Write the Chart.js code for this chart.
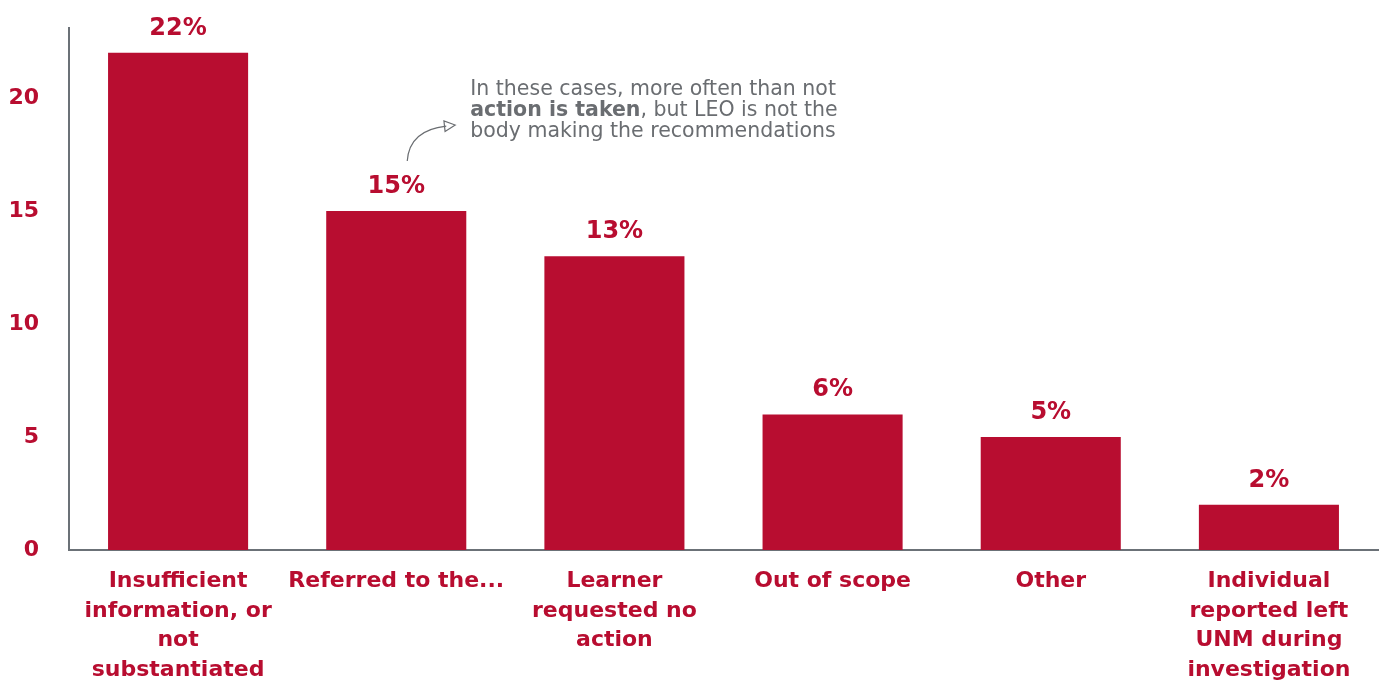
<!DOCTYPE html>
<html>
<head>
<meta charset="utf-8">
<script src="https://cdn.jsdelivr.net/npm/chart.js@4.4.1/dist/chart.umd.min.js"></script>
<style>
  html, body { margin: 0; padding: 0; background: #fff; }
  #wrap { width: 1386px; height: 682px; position: relative; }
</style>
</head>
<body>
<div id="wrap"><canvas id="outcomeChart"></canvas></div>
<script>
// Case outcomes bar chart
var categories = [
    ['Insufficient', 'information, or', 'not', 'substantiated'],
    ['Referred to the...'],
    ['Learner', 'requested no', 'action'],
    ['Out of scope'],
    ['Other'],
    ['Individual', 'reported left', 'UNM during', 'investigation']
];
var values = [22, 15, 13, 6, 5, 2];
var valueLabels = ['22%', '15%', '13%', '6%', '5%', '2%'];
var yTicks = [0, 5, 10, 15, 20];

var palette = {
    red:  '#B80D30',
    axis: '#6B7177',
    note: '#6A6D71'
};
var fontFamily = "'DejaVu Sans', 'Open Sans', Arial, sans-serif";

// percentage labels over the bars + the note with the arrow
var overlay = {
    id: 'overlay',
    afterDatasetsDraw: function (chart) {
        var ctx = chart.ctx;
        var meta = chart.getDatasetMeta(0);
        ctx.save();
        ctx.fillStyle = palette.red;
        ctx.font = 'bold 24px ' + fontFamily;
        ctx.textAlign = 'center';
        ctx.textBaseline = 'alphabetic';
        meta.data.forEach(function (bar, i) {
            ctx.fillText(valueLabels[i], bar.x, bar.y - 18);
        });

        // note next to the second bar
        var b = meta.data[1];
        var tx = b.x + 74, ty = b.y - 121;
        ctx.font = '20.5px ' + fontFamily;
        ctx.fillStyle = palette.note;
        ctx.textAlign = 'left';
        ctx.textBaseline = 'middle';
        ctx.fillText('In these cases, more often than not', tx, ty);
        ctx.font = 'bold 20.5px ' + fontFamily;
        var boldPart = 'action is taken';
        ctx.fillText(boldPart, tx, ty + 21);
        var w = ctx.measureText(boldPart).width;
        ctx.font = '20.5px ' + fontFamily;
        ctx.fillText(', but LEO is not the', tx + w, ty + 21);
        ctx.fillText('body making the recommendations', tx, ty + 42);

        // curved arrow
        var sx = b.x + 11, sy = b.y - 50;
        var ex = b.x + 50, ey = b.y - 85;
        ctx.strokeStyle = palette.note;
        ctx.lineWidth = 1.2;
        ctx.beginPath();
        ctx.moveTo(sx, sy);
        ctx.quadraticCurveTo(sx + 2, ey + 4, ex, ey);
        ctx.stroke();
        // open arrow head
        var ang = Math.atan2(-4, ex - (sx + 2));
        var tipX = ex + 9, tipY = ey - 1;
        ctx.beginPath();
        ctx.moveTo(tipX, tipY);
        ctx.lineTo(tipX - 12 * Math.cos(ang - 0.45), tipY - 12 * Math.sin(ang - 0.45));
        ctx.lineTo(tipX - 12 * Math.cos(ang + 0.45), tipY - 12 * Math.sin(ang + 0.45));
        ctx.closePath();
        ctx.stroke();
        ctx.restore();
    }
};

new Chart(document.getElementById('outcomeChart'), {
    type: 'bar',
    data: {
        labels: categories,
        datasets: [{
            data: values,
            backgroundColor: palette.red,
            borderWidth: 0,
            barPercentage: 1,
            categoryPercentage: 0.642
        }]
    },
    options: {
        responsive: true,
        maintainAspectRatio: false,
        animation: false,
        layout: { padding: { top: 28, right: 8, left: 0, bottom: 0 } },
        plugins: {
            legend: { display: false },
            tooltip: { enabled: false }
        },
        scales: {
            x: {
                grid: { display: false, drawTicks: false },
                border: { display: true, color: palette.axis, width: 2 },
                ticks: {
                    color: palette.red,
                    font: { family: fontFamily, size: 22, weight: 'bold', lineHeight: 1.34 },
                    padding: 17,
                    maxRotation: 0,
                    autoSkip: false
                },
                afterFit: function (scale) { scale.height = 132; }
            },
            y: {
                min: 0,
                max: 23.1,
                grid: { display: false, drawTicks: false },
                border: { display: true, color: palette.axis, width: 2 },
                afterBuildTicks: function (scale) {
                    scale.ticks = yTicks.map(function (v) { return { value: v }; });
                },
                ticks: {
                    color: palette.red,
                    font: { family: fontFamily, size: 22, weight: 'bold' },
                    padding: 30
                },
                afterFit: function (scale) {
                    scale.width = 69;
                    scale.paddingTop = 0;
                    scale.paddingBottom = 0;
                }
            }
        }
    },
    plugins: [overlay]
});
</script>
</body>
</html>
